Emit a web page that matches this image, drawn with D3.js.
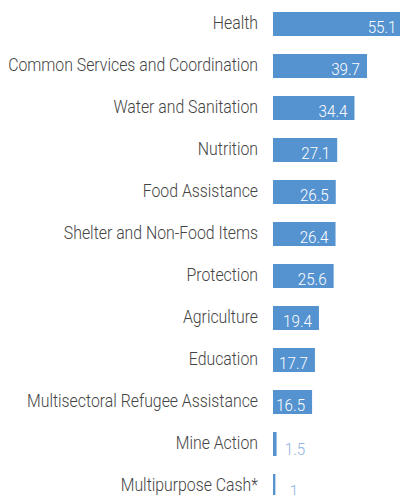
<!DOCTYPE html>
<html>
<head>
<meta charset="utf-8">
<script src="https://cdn.jsdelivr.net/npm/d3@7"></script>
<style>
  html, body { margin: 0; padding: 0; background: #fff; }
  svg { display: block; }
</style>
</head>
<body>
<svg id="chart" width="400" height="495"></svg>
<script>
const categories = [
  "Health",
  "Common Services and Coordination",
  "Water and Sanitation",
  "Nutrition",
  "Food Assistance",
  "Shelter and Non-Food Items",
  "Protection",
  "Agriculture",
  "Education",
  "Multisectoral Refugee Assistance",
  "Mine Action",
  "Multipurpose Cash*"
];
const values = [55.1, 39.7, 34.4, 27.1, 26.5, 26.4, 25.6, 19.4, 17.7, 16.5, 1.5, 1];
const valueLabels = ["55.1", "39.7", "34.4", "27.1", "26.5", "26.4", "25.6", "19.4", "17.7", "16.5", "1.5", "1"];

const svg = d3.select("#chart");
const x0 = 273;
const x = d3.scaleLinear().domain([0, 55.1]).range([x0, x0 + 130.5]);
const y = d3.scaleBand().domain(categories).range([3, 3 + 42 * 12]).paddingInner(18 / 42).paddingOuter(9 / 42);

const rows = svg.selectAll("g.row").data(categories).enter().append("g").attr("class", "row");

rows.append("rect")
  .attr("x", x0)
  .attr("y", d => y(d))
  .attr("width", (d, i) => x(values[i]) - x0)
  .attr("height", y.bandwidth())
  .attr("fill", "#5592d0");

const labelFactor = 0.88;
rows.append("text")
  .attr("transform", d => `translate(258,${y(d) + y.bandwidth() / 2 + 4.5}) scale(${labelFactor},1)`)
  .attr("text-anchor", "end")
  .attr("font-family", "Roboto")
  .attr("font-weight", 300)
  .attr("font-size", 18)
  .attr("fill", "#444")
  .text(d => d);

rows.append("text")
  .attr("transform", (d, i) => {
    const tx = values[i] > 5 ? x(values[i]) - 7 : x(values[i]) + 18.5;
    const ty = y(d) + y.bandwidth() / 2 + (values[i] > 5 ? 8.7 : 11);
    return `translate(${tx},${ty}) scale(0.92,1)`;
  })
  .attr("text-anchor", (d, i) => values[i] > 5 ? "end" : "middle")
  .attr("font-family", "Roboto")
  .attr("font-weight", 300)
  .attr("font-size", 16.5)
  .attr("fill", (d, i) => values[i] > 5 ? "#ffffff" : "#8fb4e0")
  .text((d, i) => valueLabels[i]);
</script>
</body>
</html>
